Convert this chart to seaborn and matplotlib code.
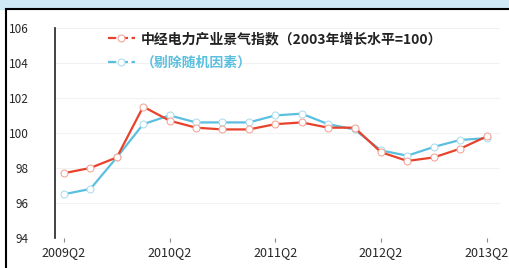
import pandas as pd
import seaborn as sns
import matplotlib.pyplot as plt
from matplotlib.patches import Rectangle

quarters = ["2009Q2", "2009Q3", "2009Q4", "2010Q1", "2010Q2", "2010Q3", "2010Q4", "2011Q1",
            "2011Q2", "2011Q3", "2011Q4", "2012Q1", "2012Q2", "2012Q3", "2012Q4", "2013Q1", "2013Q2"]
index_raw = [97.7, 98.0, 98.6, 101.5, 100.7, 100.3, 100.2, 100.2, 100.5, 100.6, 100.3, 100.3,
             98.9, 98.4, 98.6, 99.1, 99.8]
index_adj = [96.5, 96.8, 98.6, 100.5, 101.0, 100.6, 100.6, 100.6, 101.0, 101.1, 100.5, 100.2,
             99.0, 98.7, 99.2, 99.6, 99.7]
label_raw = "中经电力产业景气指数（2003年增长水平=100）"
label_adj = "（剔除随机因素）"
xtick_labels = ["2009Q2", "2010Q2", "2011Q2", "2012Q2", "2013Q2"]

df = pd.DataFrame({"i": range(len(quarters)), "raw": index_raw, "adj": index_adj})

sns.set_style("white")
plt.rcParams["font.family"] = ["Noto Sans CJK SC", "DejaVu Sans"]

fig = plt.figure(figsize=(5.09, 2.68), dpi=100)
# light blue band and black frame
fig.patches.append(Rectangle((0, 0.965), 1, 0.035, transform=fig.transFigure, color="#cfe9f6", zorder=0))
fig.patches.append(Rectangle((0.012, -0.01), 1.0, 0.975, transform=fig.transFigure, fill=False,
                             edgecolor="black", linewidth=1.5, zorder=1))

ax = fig.add_axes([0.108, 0.112, 0.874, 0.784])
ax.set_facecolor("none")

sns.lineplot(data=df, x="i", y="adj", ax=ax, color="#5bbfdf", linewidth=1.6,
             marker="o", markersize=5, markerfacecolor="white", markeredgecolor="#a9dcee",
             label=label_adj, zorder=2)
sns.lineplot(data=df, x="i", y="raw", ax=ax, color="#e8422c", linewidth=1.6,
             marker="o", markersize=5, markerfacecolor="white", markeredgecolor="#f2a393",
             label=label_raw, zorder=3)

ax.set_xlim(-0.34, 16.5)
ax.set_ylim(94, 106)
ax.set_yticks(range(94, 107, 2))
ax.set_xticks([0, 4, 8, 12, 16])
ax.set_xticklabels(xtick_labels)
ax.set_xlabel("")
ax.set_ylabel("")
ax.grid(axis="y", color="#f2f2f2", linewidth=0.8)

for s in ["top", "right", "bottom"]:
    ax.spines[s].set_visible(False)
ax.spines["left"].set_color("#222222")
ax.spines["left"].set_linewidth(1.2)
ax.tick_params(axis="y", labelsize=8.5, pad=19, length=0)
ax.tick_params(axis="x", labelsize=9, pad=3, length=3, bottom=True, color="#888888")

handles, labels = ax.get_legend_handles_labels()
leg = ax.legend(handles[::-1], labels[::-1], loc="upper left", bbox_to_anchor=(0.09, 1.04),
                frameon=False, handlelength=2.0, labelspacing=0.7, handletextpad=0.4,
                prop={"weight": "bold", "size": 10})
for h in leg.legend_handles:
    h.set_linestyle("--")
leg.get_texts()[0].set_color("#222222")
leg.get_texts()[1].set_color("#5bbfdf")

fig.savefig("out.png", dpi=100)
